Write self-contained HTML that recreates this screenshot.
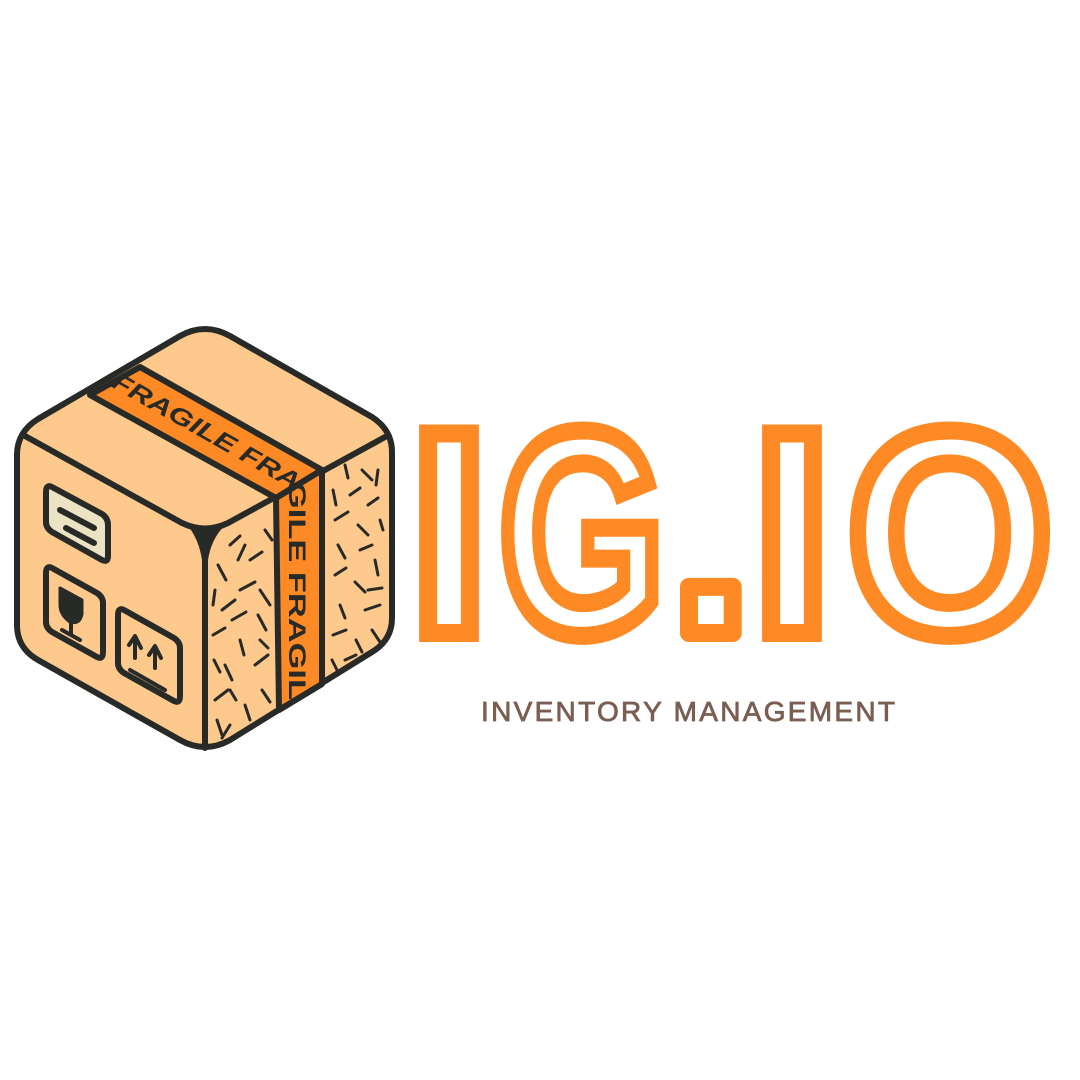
<!DOCTYPE html>
<html><head><meta charset="utf-8">
<style>
html,body{margin:0;padding:0;background:#fff;}
svg{display:block;}
</style></head>
<body>
<svg width="1080" height="1080" viewBox="0 0 1080 1080" xmlns="http://www.w3.org/2000/svg">
  <rect x="0" y="0" width="1080" height="1080" fill="#fff"/>
  <g stroke="#282a27" stroke-linejoin="round" stroke-linecap="round">
    <path d="M180,336 Q205,322 230,336 L372,417 Q392,430 392,452 L392,618 Q392,640 372,652 L230,740 Q205,754 180,740 L38,660 Q17,648 17,625 L17,455 Q17,432 38,419 Z" fill="#fec98c" stroke-width="6"/>
    <path d="M25,436 L182,523 Q205,534 228,523 L385,437" fill="none" stroke-width="6"/>
    <path d="M205,540 L205,748" fill="none" stroke-width="6"/>
    <path d="M190,527 Q205,534 222,527 Q210,540 207,560 L203,560 Q200,540 190,527 Z" fill="#282a27" stroke-width="2"/>
    <path d="M90,395 L140,367 L322,470 L276,498 Z" fill="#fd8a24" stroke-width="6"/>
    <path d="M276,498 L322,470 L322,684 L279,710 Z" fill="#fd8a24" stroke-width="6"/>
    <text transform="translate(110,386) rotate(29.5)" font-family="Liberation Sans, sans-serif" font-weight="bold" font-style="italic" font-size="24" fill="#282a27" stroke="none" textLength="212" lengthAdjust="spacingAndGlyphs">FRAGILE FRA</text>
    <text transform="translate(289,482) rotate(90)" font-family="Liberation Sans, sans-serif" font-weight="bold" font-size="24" fill="#282a27" stroke="none" textLength="218" lengthAdjust="spacingAndGlyphs">GILE FRAGIL</text>
    <path d="M52,487 L102,514 Q108,518 108,525 L108,556 Q108,563 102,560 L52,532 Q46,528 46,522 L46,492 Q46,484 52,487 Z" fill="#ece3c4" stroke-width="6"/>
    <path d="M60,510 L94,528 M66,528 L94,543" stroke-width="6" fill="none"/>
    <path d="M52,568 L97,593 Q103,597 103,603 L103,652 Q103,660 97,657 L52,632 Q46,628 46,622 L46,573 Q46,565 52,568 Z" fill="#fec98c" stroke-width="6"/>
    <path d="M60,588 L82,600 L82,614 Q80,625 70,622 Q60,615 60,605 Z" fill="#282a27" stroke-width="3"/>
    <path d="M71,622 L71,635 M62,630 L80,640" stroke-width="4" fill="none"/>
    <path d="M124,610 L174,638 Q180,642 180,648 L180,696 Q180,704 174,701 L124,673 Q118,669 118,663 L118,615 Q118,607 124,610 Z" fill="#fec98c" stroke-width="6"/>
    <path d="M135,658 L135,638 M129,645 L135,636 L141,648 M155,668 L155,648 M149,655 L155,646 L161,658 M130,670 L165,690" stroke-width="4" fill="none"/>
    <g stroke-width="3" fill="none">
      <path d="M230,545 L240,536 M250,560 L262,552 M218,565 L226,580 M240,590 L255,582 M222,610 L235,600 M258,615 L266,630 M213,635 L225,628 M240,640 L244,655 M225,665 L232,680 M255,665 L268,655 M215,700 L228,690 M245,705 L250,720 M230,725 L222,738 M262,690 L270,702 M260,590 L270,605 M215,590 L213,605 M245,545 L238,560 M265,530 L272,540 M230,690 L236,700 M217,720 L222,735 M232,620 L246,612 M260,640 L268,648 M214,660 L220,672"/>
      <path d="M345,465 L348,478 M362,470 L372,480 M333,490 L336,505 M350,495 L360,488 M368,505 L378,498 M335,520 L348,512 M358,525 L368,535 M338,545 L345,558 M360,550 L372,545 M375,560 L378,575 M335,575 L346,568 M355,582 L365,592 M340,605 L345,618 M365,610 L380,605 M333,635 L346,630 M356,640 L362,652 M372,630 L380,642 M345,660 L356,655 M378,470 L376,485 M380,520 L383,530 M332,660 L338,672 M368,590 L382,588"/>
    </g>
  </g>
  <g font-family="Liberation Sans, sans-serif" font-weight="bold" fill="#fff" stroke="#fd8a24" stroke-width="18" stroke-linejoin="miter" text-anchor="middle">
    <text x="449" y="633" font-size="290">I</text>
    <text x="582" y="633" font-size="290" textLength="166" lengthAdjust="spacingAndGlyphs">G</text>
    <text x="711" y="633" font-size="310" stroke-linejoin="round">.</text>
    <text x="792" y="633" font-size="290">I</text>
    <text x="950" y="633" font-size="290" textLength="206" lengthAdjust="spacingAndGlyphs">O</text>
  </g>
  <text x="481" y="721" font-family="Liberation Sans, sans-serif" font-size="28" fill="#7a5e52" stroke="#7a5e52" stroke-width="0.8" textLength="414" lengthAdjust="spacing">INVENTORY MANAGEMENT</text>
</svg>
</body></html>
